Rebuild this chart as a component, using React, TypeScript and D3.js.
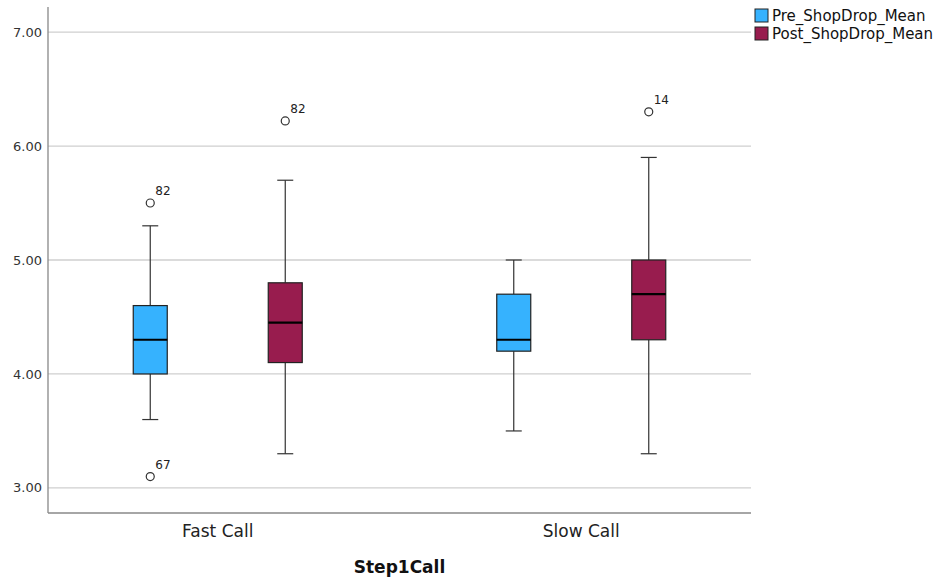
import React from 'react'
import * as d3 from 'd3'

const categories = ['Fast Call', 'Slow Call']
const seriesNames = ['Pre_ShopDrop_Mean', 'Post_ShopDrop_Mean']
const seriesColors = ['#36B2FE', '#981C4E']

// [whiskerLow, q1, median, q3, whiskerHigh] per category, per series
const preStats = [
  [3.6, 4.0, 4.3, 4.6, 5.3],
  [3.5, 4.2, 4.3, 4.7, 5.0],
]
const postStats = [
  [3.3, 4.1, 4.45, 4.8, 5.7],
  [3.3, 4.3, 4.7, 5.0, 5.9],
]
// outliers: [category, series, value, case label]
const outliers: [number, number, number, string][] = [
  [0, 0, 5.5, '82'],
  [0, 0, 3.1, '67'],
  [0, 1, 6.22, '82'],
  [1, 1, 6.3, '14'],
]
const yTicks = [3, 4, 5, 6, 7]

const W = 936
const H = 581
const margin = { left: 48, right: 185, top: 7, bottom: 68 }

export default function App() {
  const x0 = d3
    .scalePoint()
    .domain(categories)
    .range([margin.left, W - margin.right])
    .padding(0.467)
  const y = d3
    .scaleLinear()
    .domain([2.78, 7.22])
    .range([H - margin.bottom, margin.top])

  const offset = 67.5
  const boxW = 34
  const capW = 16
  const font = 'DejaVu Sans, sans-serif'
  const all = [preStats, postStats]

  return (
    <svg width={W} height={H} style={{ position: 'absolute', left: 0, top: 0, background: '#fff' }}>
      {yTicks.map((t) => (
        <g key={t}>
          <line x1={margin.left} x2={W - margin.right} y1={y(t)} y2={y(t)} stroke="#cfcfcf" strokeWidth={1.3} />
          <text x={margin.left - 6} y={y(t)} dy="0.35em" textAnchor="end" fontSize={13} fill="#333" fontFamily={font}>
            {t.toFixed(2)}
          </text>
        </g>
      ))}
      <line x1={margin.left} x2={margin.left} y1={margin.top} y2={H - margin.bottom} stroke="#888" strokeWidth={1.3} />
      <line x1={margin.left} x2={W - margin.right} y1={H - margin.bottom} y2={H - margin.bottom} stroke="#888" strokeWidth={1.3} />

      {categories.map((c, ci) => {
        const cx = x0(c)!
        return (
          <g key={c}>
            {all.map((series, si) => {
              const [lo, q1, med, q3, hi] = series[ci]
              const bx = cx + (si === 0 ? -offset : offset)
              return (
                <g key={si}>
                  <line x1={bx} x2={bx} y1={y(hi)} y2={y(q3)} stroke="#333" strokeWidth={1.2} />
                  <line x1={bx} x2={bx} y1={y(q1)} y2={y(lo)} stroke="#333" strokeWidth={1.2} />
                  <line x1={bx - capW / 2} x2={bx + capW / 2} y1={y(hi)} y2={y(hi)} stroke="#333" strokeWidth={1.2} />
                  <line x1={bx - capW / 2} x2={bx + capW / 2} y1={y(lo)} y2={y(lo)} stroke="#333" strokeWidth={1.2} />
                  <rect
                    x={bx - boxW / 2}
                    y={y(q3)}
                    width={boxW}
                    height={y(q1) - y(q3)}
                    fill={seriesColors[si]}
                    stroke="#222"
                    strokeWidth={1.2}
                  />
                  <line x1={bx - boxW / 2} x2={bx + boxW / 2} y1={y(med)} y2={y(med)} stroke="#000" strokeWidth={2.2} />
                </g>
              )
            })}
            <text x={cx} y={H - margin.bottom + 24} textAnchor="middle" fontSize={17} fill="#222" fontFamily={font}>
              {c}
            </text>
          </g>
        )
      })}

      {outliers.map(([ci, si, v, label], i) => {
        const cx = x0(categories[ci])!
        const bx = cx + (si === 0 ? -offset : offset)
        return (
          <g key={i}>
            <circle cx={bx} cy={y(v)} r={4} fill="#fff" stroke="#333" strokeWidth={1.2} />
            <text x={bx + 5} y={y(v) - 8} fontSize={12} fill="#222" fontFamily={font}>
              {label}
            </text>
          </g>
        )
      })}

      <text
        x={(margin.left + W - margin.right) / 2}
        y={H - 8}
        textAnchor="middle"
        fontSize={17}
        fontWeight="bold"
        fill="#111"
        fontFamily={font}
      >
        Step1Call
      </text>

      {seriesNames.map((s, i) => (
        <g key={s} transform={`translate(755, ${9 + i * 18})`}>
          <rect x={0} y={0} width={13} height={13} fill={seriesColors[i]} stroke="#222" strokeWidth={1} />
          <text x={17} y={7} dy="0.35em" fontSize={15} fill="#111" fontFamily={font}>
            {s}
          </text>
        </g>
      ))}
    </svg>
  )
}
